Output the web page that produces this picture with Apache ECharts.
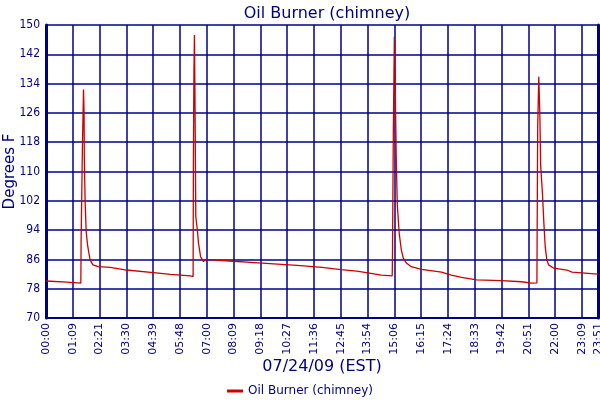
<!DOCTYPE html>
<html>
<head>
<meta charset="utf-8">
<title>Oil Burner (chimney)</title>
<script src="https://cdn.jsdelivr.net/npm/echarts@6/dist/echarts.min.js"></script>
<style>
  html, body { margin: 0; padding: 0; background: #fff; }
  #chart { width: 600px; height: 400px; }
</style>
</head>
<body>
<div id="chart"></div>
<script>
// x tick labels, one per grid slot, and the label at the right edge
var tickLabels = ['00:00','01:09','02:21','03:30','04:39','05:48','07:00','08:09','09:18','10:27',
                  '11:36','12:45','13:54','15:06','16:15','17:24','18:33','19:42','20:51','22:00','23:09'];
var endLabel = '23:51';
var xMax = 20.6;

// sample position (in label slots) and temperature (deg F)
var samplePos = [
  0.00, 0.78, 0.79, 1.30, 1.31, 1.36, 1.40, 1.42, 1.43, 1.46, 1.50, 1.55, 1.60, 1.65, 1.75, 1.95,
  2.40, 3.00, 4.01, 4.64, 5.39, 5.49,
  5.50, 5.52, 5.54, 5.56, 5.59, 5.66, 5.69, 5.77, 5.88, 5.96, 6.33,
  7.00, 7.64, 8.50, 9.51, 10.30, 11.01, 11.60, 12.13, 12.51, 12.92,
  12.93, 12.96, 13.00, 13.03, 13.07, 13.11, 13.18, 13.26, 13.33, 13.45, 13.63, 14.01,
  14.76, 15.13, 15.51, 16.07, 17.00, 17.75, 18.13, 18.32,
  18.33, 18.35, 18.39, 18.43, 18.46, 18.53, 18.58, 18.63, 18.69, 18.76, 18.95,
  19.44, 19.63, 20.60
];
var tempF = [
  80.1, 79.8, 79.5, 79.5, 90.8, 117.0, 132.4, 126.3, 113.7, 101.8, 93.6, 90.0, 87.7, 85.8, 84.5, 84.0,
  83.8, 83.1, 82.4, 81.9, 81.5, 81.3,
  110.4, 137.0, 147.3, 130.0, 97.7, 93.2, 90.5, 86.7, 85.4, 86.0, 85.8,
  85.5, 85.2, 84.8, 84.3, 83.8, 83.2, 82.8, 82.2, 81.7, 81.5,
  86.7, 119.0, 146.8, 135.0, 114.0, 100.9, 93.2, 88.6, 86.4, 85.0, 84.0, 83.3,
  82.5, 81.7, 81.1, 80.4, 80.2, 79.9, 79.5, 79.6,
  94.6, 122.4, 135.9, 125.4, 111.8, 103.6, 95.9, 89.5, 85.8, 84.5, 83.6,
  83.1, 82.5, 82.0
];

var points = samplePos.map(function (x, i) { return [x, tempF[i]]; });

var navy = '#000080';
var gridBlue = '#000090';
var textFont = 'DejaVu Sans';
var narrowFont = 'DejaVu Sans Condensed, DejaVu Sans';

var myChart = echarts.init(document.getElementById('chart'));
var option = {
  animation: false,
  backgroundColor: '#fff',
  title: {
    text: 'Oil Burner (chimney)',
    left: 322, top: 1, textAlign: 'center',
    textStyle: { color: navy, fontSize: 16, fontWeight: 'normal', fontFamily: textFont }
  },
  legend: {
    top: 380, left: 'center',
    icon: 'rect', itemWidth: 16, itemHeight: 3, itemGap: 6,
    textStyle: { color: navy, fontSize: 12, fontFamily: textFont },
    data: ['Oil Burner (chimney)']
  },
  grid: { left: 46, right: 2, top: 25, bottom: 82, containLabel: false, outerBoundsMode: 'none' },
  xAxis: {
    type: 'value', min: 0, max: xMax, interval: 1,
    name: '07/24/09 (EST)', nameLocation: 'middle', nameGap: 41, nameMoveOverlap: false,
    nameTextStyle: { color: navy, fontSize: 16, fontFamily: textFont },
    axisLine: { show: true, lineStyle: { color: navy, width: 2 } },
    axisTick: { show: false },
    axisLabel: {
      rotate: 90, margin: 5, color: navy, fontSize: 11, fontFamily: textFont,
      formatter: function (v) {
        if (v >= xMax - 0.001) return endLabel;
        var i = Math.round(v);
        return tickLabels[i] || '';
      }
    },
    splitLine: { show: true, lineStyle: { color: gridBlue, width: 1.5 } }
  },
  yAxis: [{
    type: 'value', min: 70, max: 150, interval: 8,
    name: 'Degrees F', nameLocation: 'middle', nameGap: 28, nameMoveOverlap: false,
    nameTextStyle: { color: navy, fontSize: 15, fontFamily: textFont },
    axisLine: { show: true, lineStyle: { color: navy, width: 3 } },
    axisTick: { show: false },
    axisLabel: { margin: 6, color: navy, fontSize: 12, fontFamily: narrowFont },
    splitLine: { show: true, lineStyle: { color: gridBlue, width: 1.5 } }
  }, {
    type: 'value', min: 70, max: 150, interval: 8, position: 'right',
    axisLine: { show: true, lineStyle: { color: navy, width: 3 } },
    axisTick: { show: false },
    axisLabel: { show: false },
    splitLine: { show: false }
  }],
  series: [{
    name: 'Oil Burner (chimney)',
    type: 'line',
    data: points,
    showSymbol: false,
    symbol: 'none',
    lineStyle: { color: '#cc0000', width: 1.3 },
    itemStyle: { color: '#cc0000' }
  }]
};
myChart.setOption(option);
</script>
</body>
</html>
